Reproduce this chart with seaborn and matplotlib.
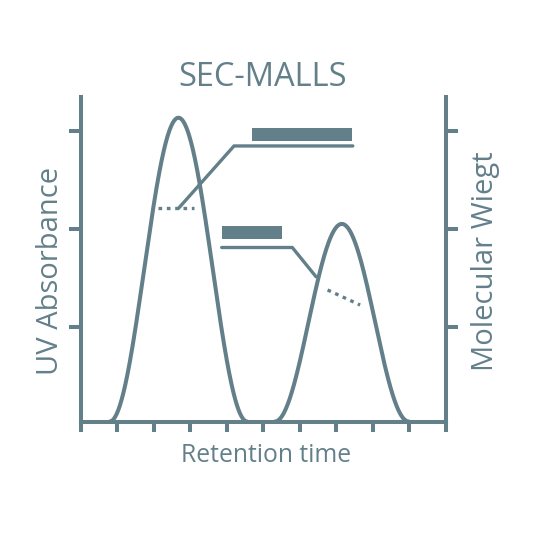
import numpy as np
import pandas as pd
import matplotlib
matplotlib.use("Agg")
import matplotlib.pyplot as plt
import seaborn as sns
from matplotlib.patches import Rectangle

# ---------------- data ----------------
title = "SEC-MALLS"
x_label = "Retention time"
y_label_left = "UV Absorbance"
y_label_right = "Molecular Wiegt"

x_ticks = [0, 1, 2, 3, 4, 5, 6, 7, 8, 9, 10]
y_ticks = [1, 2, 3]

peak_names = ["Peak 1", "Peak 2"]
peak_centers = [2.68, 7.15]
peak_heights = [3.09, 2.01]
peak_half_widths = [1.88, 1.83]
baseline = 0.042

# molecular-weight segments across each peak (dotted)
mw_x_start = [2.11, 6.76]
mw_x_end = [3.11, 7.65]
mw_y_start = [2.21, 1.38]
mw_y_end = [2.21, 1.227]

# leader lines from the segments to the label boxes
leader1_x = [2.68, 4.20, 7.45]
leader1_y = [2.21, 2.845, 2.845]
leader2_x = [3.863, 5.795, 6.443]
leader2_y = [1.812, 1.812, 1.515]

# label boxes (filled placeholders)
box_x = [4.69, 3.863]
box_w = [2.75, 1.642]
box_y = [2.899, 1.899]
box_h = [0.132, 0.132]

# ---------------- style ----------------
COLOR = "#63808a"
sns.set_style("white")
plt.rcParams["font.family"] = ["Open Sans", "DejaVu Sans"]

W = 533
fig = plt.figure(figsize=(W / 100, W / 100), dpi=100)
ax_l, ax_r, ax_b, ax_t = 80.5, 446.0, 421.5, 97.0
ax = fig.add_axes([ax_l / W, (W - ax_b) / W, (ax_r - ax_l) / W, (ax_b - ax_t) / W])

# peak curves (raised-cosine chromatogram peaks)
rows = []
for name, c, h, w in zip(peak_names, peak_centers, peak_heights, peak_half_widths):
    xs = np.linspace(c - w, c + w, 300)
    ys = baseline + h * (1 + np.cos(np.pi * (xs - c) / w)) / 2
    rows.append(pd.DataFrame({"time": xs, "signal": ys, "peak": name}))
df = pd.concat(rows, ignore_index=True)

sns.lineplot(data=df, x="time", y="signal", units="peak", estimator=None,
             color=COLOR, linewidth=2.9, ax=ax, clip_on=False, legend=False)

LW2 = 2.4
for xs0, xs1, ys0, ys1 in zip(mw_x_start, mw_x_end, mw_y_start, mw_y_end):
    ax.plot([xs0, xs1], [ys0, ys1], color=COLOR, linewidth=LW2,
            linestyle=(0, (1.1, 1.4)), solid_capstyle="butt", dash_capstyle="butt")

ax.plot(leader1_x, leader1_y, color=COLOR, linewidth=LW2, solid_joinstyle="miter")
ax.plot(leader2_x, leader2_y, color=COLOR, linewidth=LW2, solid_joinstyle="miter")

for bx, bw, by, bh in zip(box_x, box_w, box_y, box_h):
    ax.add_patch(Rectangle((bx, by), bw, bh, facecolor=COLOR, edgecolor="none"))

ax.set_xlim(0, 10)
ax.set_ylim(baseline, 3.343)
ax.set_xticks(x_ticks)
ax.set_yticks(y_ticks)
ax.set_xticklabels([])
ax.set_yticklabels([])
ax.set_xlabel("")
ax.set_ylabel("")

for side in ["left", "right", "bottom"]:
    ax.spines[side].set_visible(True)
    ax.spines[side].set_color(COLOR)
    ax.spines[side].set_linewidth(2.9)
ax.spines["top"].set_visible(False)

ax.tick_params(axis="x", direction="out", length=7.2, width=2.9, color=COLOR, bottom=True)
ax.tick_params(axis="y", direction="out", length=8.4, width=2.9, color=COLOR,
               left=True, right=True, labelleft=False, labelright=False)
ax.set_facecolor("white")

fig.text(263 / W, 1 - 85.5 / W, title, ha="center", va="baseline", fontsize=23.5, color=COLOR)
fig.text(265.7 / W, 1 - 462.3 / W, x_label, ha="center", va="baseline", fontsize=17.8, color=COLOR)
fig.text(58.3 / W, 1 - 270.5 / W, y_label_left, ha="center", va="baseline", rotation=90,
         rotation_mode="anchor", fontsize=21, color=COLOR)
fig.text(493.3 / W, 1 - 261.5 / W, y_label_right, ha="center", va="baseline", rotation=90,
         rotation_mode="anchor", fontsize=21, color=COLOR)

fig.savefig("out.png", dpi=100, facecolor="white")
